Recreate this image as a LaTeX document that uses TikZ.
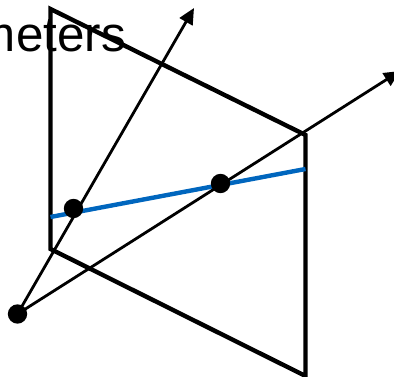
\documentclass[tikz,border=0pt]{standalone}
\usepackage{fontspec}
\setmainfont{Liberation Sans}
\usepackage{xcolor}
\usetikzlibrary{arrows.meta, positioning}
\definecolor{linecol}{RGB}{0,102,190}

\begin{document}
\begin{tikzpicture}[
  x=0.75pt, y=-0.75pt,
  dot/.style={circle, fill=black, draw=none, minimum size=14.5pt, inner sep=0pt},
  title/.style={font=\fontsize{37pt}{43pt}\selectfont, inner sep=0pt, anchor=base east},
  plane/.style={line width=3.3pt, line join=miter},
  ray/.style={-{Triangle[length=12pt, width=11pt]}, line width=2.1pt},
  trace/.style={draw=linecol, line width=3.3pt}
]
\useasboundingbox (0,0) rectangle (394,377);
\clip (0,0) rectangle (394,377);

% --- Title ---
\node[title] (word) at (126,52) {meters};

% --- Plane corners ---
\coordinate (tl) at (50.5,9);
\coordinate (tr) at (305.5,135);
\coordinate (br) at (305.5,376);
\coordinate (bl) at (50.5,249);

% --- Free ends ---
\coordinate (endA) at (194,8);
\coordinate (endB) at (400,71);
\coordinate (camC) at (17.5,314);
\coordinate (lineL) at (50.5,217);
\coordinate (lineR) at (305.5,169);

% --- Plane and line ---
\draw[plane] (tl) -- (tr) -- (br) -- (bl) -- cycle;
\draw[trace] (lineL) -- (lineR);

% --- Rays ---
\draw[ray] (camC) -- (endA);
\draw[ray] (camC) -- (endB);

% --- Points ---
\node[dot] (cam) at (camC) {};
\node[dot] (ptA) at (73.5,208.5) {};
\node[dot] (ptB) at (220.5,183.5) {};

\end{tikzpicture}
\end{document}
